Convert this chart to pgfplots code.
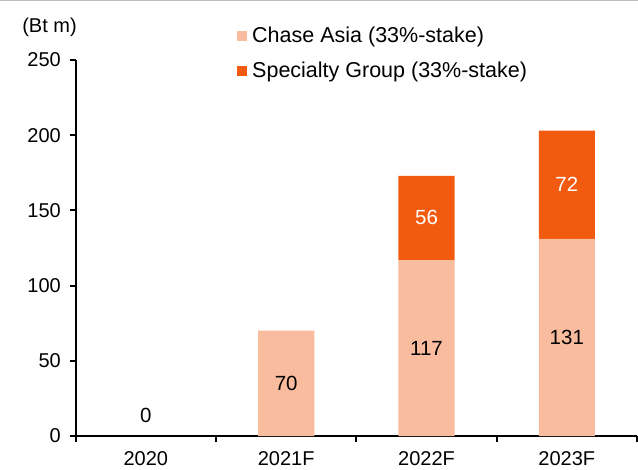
\documentclass[border=0pt]{standalone}
\usepackage{pgfplots}
\pgfplotsset{compat=1.18}
\usepackage{fontspec}
\setmainfont{Liberation Sans}
\definecolor{chase}{HTML}{F9BC9E}
\definecolor{spec}{HTML}{F25A0F}
\pgfplotsset{
  common/.style={
    at={(75.7bp,34bp)}, anchor=south west,
    scale only axis, width=561.3bp, height=376bp,
    xmin=-0.5, xmax=3.5, ymin=0, ymax=250,
  }
}
\begin{document}
\fontsize{20bp}{24bp}\selectfont
\begin{tikzpicture}
\path[use as bounding box] (0,0) rectangle (638bp,470bp);
\draw[black!25, line width=1bp] (0,469.5bp) -- (638bp,469.5bp);
\begin{axis}[
  common,
  ybar stacked, bar width=0.4,
  ytick={0,50,...,250},
  xtick={-0.5,0.5,1.5,2.5,3.5},
  xticklabels={2020,2021F,2022F,2023F},
  x tick label as interval,
  axis x line*=bottom, axis y line*=left,
  axis line style={line width=1.8bp, -},
  tick style={line width=1.8bp, black},
  tick align=outside, major tick length=6bp,
  tick label style={font=\fontsize{20bp}{24bp}\selectfont},
  /pgf/number format/assume math mode=true,
  yticklabel style={xshift=-2bp},
  xticklabel style={yshift=-3bp},
  legend style={at={(axis description cs:0.2874,1.095)}, anchor=north west,
    draw=none, fill=none, inner sep=0pt, row sep=13bp,
    font=\fontsize{21.5bp}{25bp}\selectfont,
    nodes={inner xsep=5bp},
    /tikz/every even column/.append style={column sep=0bp}},
  legend cell align=left,
  legend image code/.code={\fill[#1] (0bp,-5bp) rectangle (10bp,5bp);},
]
\addplot[fill=chase, draw=none] coordinates {(0,0) (1,70) (2,117) (3,131)};
\addplot[fill=spec, draw=none] coordinates {(0,0) (1,0) (2,56) (3,72)};
\legend{Chase Asia (33\%-stake), Specialty Group (33\%-stake)}
\end{axis}
\begin{axis}[
  common, hide axis,
  nodes near coords, point meta=explicit symbolic,
  every node near coord/.style={anchor=center, font=\fontsize{20.5bp}{24bp}\selectfont},
]
\addplot[draw=none, mark=none, nodes near coords style={black}] coordinates {(0,14) [0] (1,35) [70] (2,58.5) [117] (3,65.5) [131]};
\addplot[draw=none, mark=none, nodes near coords style={white}] coordinates {(2,145) [56] (3,167) [72]};
\end{axis}
\node at (49.5bp,443bp) {(Bt m)};
\end{tikzpicture}
\end{document}
